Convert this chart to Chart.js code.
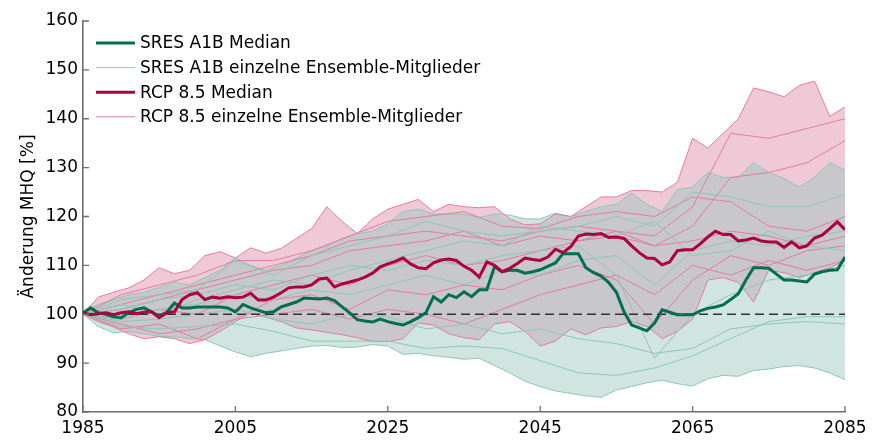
<!DOCTYPE html>
<html>
<head>
<meta charset="utf-8">
<script src="https://cdn.jsdelivr.net/npm/chart.js@4.4.0/dist/chart.umd.min.js"></script>
<style>
  html, body { margin: 0; padding: 0; background: #fff; }
  #wrap { width: 880px; height: 445px; }
</style>
</head>
<body>
<div id="wrap"><canvas id="mhq-chart" width="880" height="445"></canvas></div>
<script>
// tick labels
const xTicks = [1985, 2005, 2025, 2045, 2065, 2085];
const yTicks = [80, 90, 100, 110, 120, 130, 140, 150, 160];

// annual medians
const yearsAnnual = [
    1985, 1986, 1987, 1988, 1989, 1990, 1991, 1992, 1993, 1994,
    1995, 1996, 1997, 1998, 1999, 2000, 2001, 2002, 2003, 2004,
    2005, 2006, 2007, 2008, 2009, 2010, 2011, 2012, 2013, 2014,
    2015, 2016, 2017, 2018, 2019, 2020, 2021, 2022, 2023, 2024,
    2025, 2026, 2027, 2028, 2029, 2030, 2031, 2032, 2033, 2034,
    2035, 2036, 2037, 2038, 2039, 2040, 2041, 2042, 2043, 2044,
    2045, 2046, 2047, 2048, 2049, 2050, 2051, 2052, 2053, 2054,
    2055, 2056, 2057, 2058, 2059, 2060, 2061, 2062, 2063, 2064,
    2065, 2066, 2067, 2068, 2069, 2070, 2071, 2072, 2073, 2074,
    2075, 2076, 2077, 2078, 2079, 2080, 2081, 2082, 2083, 2084,
    2085
];
const medianA1B = [
    100.3, 101.3, 100.3, 100, 99.5, 99.3, 100.3, 101, 101.3, 100.5,
    99.6, 100.4, 102.3, 101.3, 101.3, 101.5, 101.5, 101.5, 101.5, 101.3,
    100.5, 102, 101.3, 100.8, 100.3, 100.5, 101.5, 102, 102.5, 103.3,
    103.2, 103.1, 103.3, 102.8, 101.5, 100.3, 98.9, 98.6, 98.4, 99,
    98.5, 98.1, 97.8, 98.5, 99.3, 100.3, 103.6, 102.5, 104, 103.4,
    104.6, 103.6, 105, 105, 109.7, 108.7, 109, 109, 108.4, 108.7,
    109.1, 109.8, 110.5, 112.4, 112.4, 112.4, 109.5, 108.5, 107.8, 106.5,
    104.5, 100.5, 97.8, 97.2, 96.6, 98.2, 100.9, 100.4, 99.9, 99.9,
    99.9, 100.7, 101.2, 101.5, 101.9, 103, 104.2, 107, 109.5, 109.5,
    109.4, 108.2, 107, 107, 106.8, 106.6, 108.2, 108.7, 109, 109.1,
    111.7
];
const medianRCP = [
    100.3, 99.9, 100.1, 100.3, 99.9, 100.3, 100.5, 100.1, 100.4, 100.5,
    99.3, 100.3, 100.5, 103, 104, 104.4, 103, 103.5, 103.3, 103.6,
    103.4, 103.5, 104.3, 102.9, 102.9, 103.5, 104.4, 105.4, 105.6, 105.6,
    106, 107.2, 107.4, 105.6, 106.2, 106.6, 107, 107.6, 108.4, 109.7,
    110.3, 110.8, 111.5, 110.3, 109.5, 109.3, 110.5, 111.1, 111.3, 111,
    109.8, 109, 107.6, 110.7, 110, 108.7, 109.4, 110.4, 111.5, 111.2,
    111, 111.7, 113.3, 112.6, 113.8, 116, 116.4, 116.3, 116.5, 115.7,
    115.8, 115.5, 114, 112.6, 111.5, 111.4, 110.1, 110.7, 113, 113.2,
    113.2, 114.4, 115.8, 117, 116.3, 116.3, 115, 115.2, 115.6, 115,
    114.8, 114.8, 113.7, 114.8, 113.6, 114, 115.6, 116.2, 117.5, 118.9,
    117.3
];

// ensemble spread (min / max of the members), two-year steps
const yearsEnv = [
    1985, 1987, 1989, 1991, 1993, 1995, 1997, 1999, 2001, 2003,
    2005, 2007, 2009, 2011, 2013, 2015, 2017, 2019, 2021, 2023,
    2025, 2027, 2029, 2031, 2033, 2035, 2037, 2039, 2041, 2043,
    2045, 2047, 2049, 2051, 2053, 2055, 2057, 2059, 2061, 2063,
    2065, 2067, 2069, 2071, 2073, 2075, 2077, 2079, 2081, 2083,
    2085
];
const a1bMax = [
    100.5, 102, 103, 104, 104.5, 105.5, 106.5, 106, 107.5, 109,
    111.5, 110, 109, 110, 111.5, 113, 114, 115.5, 116.5, 117,
    118.5, 121, 121.5, 120.5, 120.5, 120.5, 119.8, 120.5, 120.3, 119.5,
    119.5, 120.7, 120, 121, 122, 122.5, 124.8, 122.5, 121, 125.5,
    126, 129, 128, 128, 131, 129, 127.8, 126, 128, 131,
    129.5
];
const a1bMin = [
    100, 97.5, 96.2, 96.5, 96, 95.5, 95.4, 95, 94.8, 93.5,
    92.3, 91.3, 92, 92.5, 93, 93.5, 93.6, 93.2, 93.3, 93.8,
    93.5, 91.8, 92, 91.5, 91.2, 90.8, 91, 89.5, 88, 86.3,
    85.2, 84.3, 83.8, 83.3, 83, 84.5, 85.2, 86, 86.5, 85.8,
    85.3, 86.8, 87.5, 87.3, 88.5, 88.8, 89.3, 89.5, 89, 88,
    86.6
];
const rcpMax = [
    100, 103.5, 104.5, 105.4, 107, 109.5, 108.3, 109, 112, 112.8,
    111.5, 113.6, 112.5, 113.5, 115.5, 117.5, 122, 119, 116.5, 119.5,
    121.5, 122.5, 123.5, 121, 122.5, 122, 121.8, 122, 119.5, 118.3,
    118.5, 120.5, 120, 122, 124, 124, 125.3, 125.3, 125, 127,
    136, 134, 137, 140, 146.3, 145.5, 144.5, 146.8, 147.7, 140.5,
    142.4
];
const rcpMin = [
    100, 98.5, 97.4, 96, 95, 95.4, 95, 94, 94.8, 96.5,
    98.5, 100.2, 99.4, 98.5, 97.2, 96.8, 96.3, 95.8, 95.2, 94.4,
    94.4, 95, 98.2, 97.8, 96, 95.2, 94.8, 98, 98.5, 96.5,
    93.5, 94.5, 97, 95.8, 97.2, 97.5, 98.5, 97.5, 95, 96.5,
    99, 107, 107.5, 106.5, 102.5, 109, 108.5, 107.5, 108.5, 109.5,
    111
];

// single ensemble members, five-year steps
const yearsMember = [
    1985, 1990, 1995, 2000, 2005, 2010, 2015, 2020, 2025, 2030,
    2035, 2040, 2045, 2050, 2055, 2060, 2065, 2070, 2075, 2080, 2085
];
const a1bMembers = [
    [100, 97.5, 97, 97.5, 98, 96.5, 94.5, 94.5, 94.5, 93, 93.5, 93, 90.5, 88, 87.5, 89, 91.5, 95, 98.5, 99.5, 99.5],
    [100, 103, 104, 105, 111, 108, 112, 114, 116, 119, 117, 116, 117, 118, 120, 118, 125, 124, 122, 122, 124.5],
    [100, 101, 103, 104, 106, 105, 108, 110, 109, 111, 110, 112, 113, 114, 108, 91, 100, 104, 107, 108, 110],
    [100, 99, 101, 102, 104, 103, 105, 104, 106, 108, 106, 109, 108, 111, 112, 106, 113, 115, 114, 116, 117],
    [100, 98.5, 99, 100, 101, 99, 98, 100, 99.5, 97, 98, 96, 97, 95, 94, 92, 93, 97, 98, 98.5, 98],
    [100, 102, 100, 103, 105, 107, 106, 109, 111, 113, 115, 114, 118, 117, 116, 119, 112, 113, 117, 114, 113]
];
const rcpMembers = [
    [100, 102, 104, 106, 108, 110, 112, 115, 116, 117, 116, 115, 117, 118, 117, 116, 122, 137, 136, 138, 140],
    [100, 101, 103, 105, 107, 109, 110, 113, 114, 115, 117, 114, 116, 115, 116, 114, 118, 128, 129, 131, 135.5],
    [100, 99, 101, 100, 104, 106, 108, 106, 110, 112, 110, 111, 113, 115, 117, 114, 115, 117, 116, 114, 116],
    [100, 98, 96, 97, 99, 100, 101, 99, 101, 100, 98, 101, 104, 106, 108, 104, 110, 108, 111, 109, 111],
    [100, 97, 98, 95, 99, 103, 104, 101, 105, 104, 106, 105, 108, 110, 107, 98, 107, 112, 110, 113, 114],
    [100, 104, 106, 108, 111, 111, 113, 116, 119, 120, 121, 118, 117.5, 120, 121, 120, 124, 123, 118, 117, 120]
];

// reference level
const refYears = [1985, 2085];
const refLevel = [100, 100];

const legendLabels = [
    'SRES A1B Median',
    'SRES A1B einzelne Ensemble-Mitglieder',
    'RCP 8.5 Median',
    'RCP 8.5 einzelne Ensemble-Mitglieder'
];

const colors = {
    a1bMedian: 'rgb(0, 110, 80)',
    a1bLine: 'rgb(140, 200, 180)',
    a1bFill: 'rgb(208, 229, 223)',
    rcpMedian: 'rgb(176, 0, 60)',
    rcpLine: 'rgb(225, 125, 160)',
    rcpFill: 'rgb(240, 201, 214)',
    overlap: 'rgb(200, 199, 203)',
    axis: 'rgb(110, 110, 110)'
};

const FONT = 'DejaVu Sans';

function pts(xs, ys) {
    return xs.map((x, i) => ({ x: x, y: ys[i] }));
}

// the grey band is where both spreads overlap
const overlapMin = yearsEnv.map((_, i) => Math.max(a1bMin[i], rcpMin[i]));
const overlapMax = yearsEnv.map((_, i) => Math.max(overlapMin[i], Math.min(a1bMax[i], rcpMax[i])));

const datasets = [];
function add(ds) { datasets.push(ds); return datasets.length - 1; }

const a1bLo = add({ data: pts(yearsEnv, a1bMin), borderColor: colors.a1bLine, borderWidth: 1, fill: false, order: 30 });
add({ data: pts(yearsEnv, a1bMax), borderColor: colors.a1bLine, borderWidth: 1, backgroundColor: colors.a1bFill, fill: { target: a1bLo }, order: 30 });
const rcpLo = add({ data: pts(yearsEnv, rcpMin), borderColor: colors.rcpLine, borderWidth: 1, fill: false, order: 29 });
add({ data: pts(yearsEnv, rcpMax), borderColor: colors.rcpLine, borderWidth: 1, backgroundColor: colors.rcpFill, fill: { target: rcpLo }, order: 29 });
const ovLo = add({ data: pts(yearsEnv, overlapMin), borderWidth: 0, fill: false, order: 28 });
add({ data: pts(yearsEnv, overlapMax), borderWidth: 0, backgroundColor: colors.overlap, fill: { target: ovLo }, order: 28 });

a1bMembers.forEach(m => add({ data: pts(yearsMember, m), borderColor: colors.a1bLine, borderWidth: 1, fill: false, order: 20 }));
rcpMembers.forEach(m => add({ data: pts(yearsMember, m), borderColor: colors.rcpLine, borderWidth: 1, fill: false, order: 20 }));

add({ data: pts(refYears, refLevel), borderColor: 'rgb(50, 50, 50)', borderWidth: 1.3, borderDash: [9, 5], fill: false, order: 10 });
add({ data: pts(yearsAnnual, medianA1B), borderColor: colors.a1bMedian, borderWidth: 3, fill: false, order: 2 });
add({ data: pts(yearsAnnual, medianRCP), borderColor: colors.rcpMedian, borderWidth: 3, fill: false, order: 1 });

const inwardTicks = {
    id: 'inwardTicks',
    afterDraw(chart) {
        const { ctx, chartArea, scales } = chart;
        ctx.save();
        ctx.strokeStyle = colors.axis;
        ctx.lineWidth = 1.3;
        ctx.beginPath();
        scales.x.ticks.forEach(t => {
            const px = scales.x.getPixelForValue(t.value);
            ctx.moveTo(px, chartArea.bottom);
            ctx.lineTo(px, chartArea.bottom - 6);
        });
        scales.y.ticks.forEach(t => {
            const py = scales.y.getPixelForValue(t.value);
            ctx.moveTo(chartArea.left, py);
            ctx.lineTo(chartArea.left + 6, py);
        });
        ctx.stroke();
        ctx.restore();
    }
};

const legendBox = {
    id: 'legendBox',
    afterDraw(chart) {
        const { ctx } = chart;
        const styles = [
            [colors.a1bMedian, 3], [colors.a1bLine, 1],
            [colors.rcpMedian, 3], [colors.rcpLine, 1]
        ];
        ctx.save();
        ctx.font = '17px "' + FONT + '"';
        ctx.textBaseline = 'middle';
        legendLabels.forEach((label, i) => {
            const y = 43 + i * 24.6;
            ctx.strokeStyle = styles[i][0];
            ctx.lineWidth = styles[i][1];
            ctx.beginPath();
            ctx.moveTo(96, y);
            ctx.lineTo(135, y);
            ctx.stroke();
            ctx.fillStyle = '#000';
            ctx.fillText(label, 140, y + 1);
        });
        ctx.restore();
    }
};

new Chart(document.getElementById('mhq-chart').getContext('2d'), {
    type: 'line',
    data: { datasets: datasets },
    options: {
        responsive: false,
        animation: false,
        layout: { padding: { top: 21, right: 35, left: 0, bottom: 0 } },
        elements: { point: { radius: 0 }, line: { tension: 0 } },
        plugins: {
            legend: { display: false },
            tooltip: { enabled: false },
            filler: { drawTime: 'beforeDatasetsDraw' }
        },
        scales: {
            x: {
                type: 'linear',
                min: 1985,
                max: 2085,
                afterBuildTicks: s => { s.ticks = xTicks.map(v => ({ value: v })); },
                afterFit: s => { s.height = 33; },
                grid: { display: false, drawTicks: false },
                border: { display: true, color: colors.axis, width: 1.6 },
                ticks: { padding: 6, color: '#000', font: { family: FONT, size: 17 }, maxRotation: 0, callback: v => String(v) }
            },
            y: {
                min: 80,
                max: 160,
                afterBuildTicks: s => { s.ticks = yTicks.map(v => ({ value: v })); },
                afterFit: s => { s.width = 83; },
                grid: { display: false, drawTicks: false },
                border: { display: true, color: colors.axis, width: 1.6 },
                ticks: { padding: 5, color: '#000', font: { family: FONT, size: 17 }, callback: v => String(v) },
                title: { display: true, text: 'Änderung MHQ [%]', color: '#000', font: { family: FONT, size: 17 }, padding: { top: 18, bottom: 0 } }
            }
        }
    },
    plugins: [inwardTicks, legendBox]
});
</script>
</body>
</html>
